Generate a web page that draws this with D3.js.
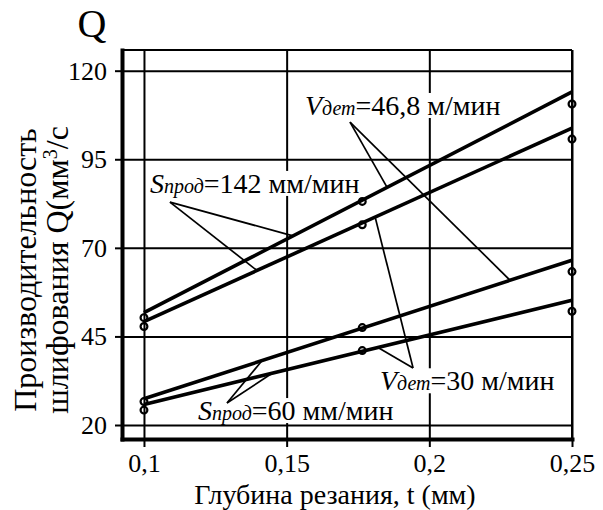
<!DOCTYPE html>
<html>
<head>
<meta charset="utf-8">
<script src="https://cdn.jsdelivr.net/npm/d3@7"></script>
<style>
  body { margin: 0; background: #fff; }
  svg { display: block; }
  svg text { font-family: "Liberation Serif", "Times New Roman", "Liberation Sans", serif; fill: #000; }
</style>
</head>
<body>
<svg id="chart" width="603" height="510"></svg>
<script>
"use strict"

// depth of cut t (mm) vs grinding productivity Q (mm3/s)
var tTicks = [0.1, 0.15, 0.2, 0.25];
var tTickLabels = ["0,1", "0,15", "0,2", "0,25"];
var qTicks = [20, 45, 70, 95, 120];

// fitted lines, ends at t = 0.1 and t = 0.25
var tFit = [0.1, 0.25];
var qFit142v47 = [51.7, 114.0];
var qFit142v30 = [49.2, 103.8];
var qFit60v47 = [27.4, 66.5];
var qFit60v30 = [25.8, 55.2];

// measured points
var tMeas = [0.1, 0.1765, 0.25];
var qMeas142v47 = [50.3, 83.1, 110.6];
var qMeas142v30 = [47.8, 76.5, 100.7];
var qMeas60v47 = [26.6, 47.5, 63.3];
var qMeas60v30 = [24.2, 41.0, 52.1];

var fits = [qFit142v47, qFit142v30, qFit60v47, qFit60v30];
var meas = [qMeas142v47, qMeas142v30, qMeas60v47, qMeas60v30];

// callouts: text parts, where the text sits, where the leaders meet, which lines they hit
var notes = [
  { parts: ["S", "прод", "=142 мм/мин"], at: [0.1021, 85.5], apex: [0.1091, 82.9], hits: [[0, 0.1522], [1, 0.1396]] },
  { parts: ["V", "дет", "=46,8 м/мин"], at: [0.1564, 107.5], apex: [0.1722, 105.5], hits: [[0, 0.1852], [2, 0.2283]] },
  { parts: ["V", "дет", "=30 м/мин"], at: [0.1827, 29.8], apex: [0.1943, 36.1], hits: [[1, 0.181], [3, 0.182]] },
  { parts: ["S", "прод", "=60 мм/мин"], at: [0.1189, 21.4], apex: [0.1291, 26.2], hits: [[2, 0.1414], [3, 0.1449]] }
];

var serif = '"Liberation Serif", "Times New Roman", "Liberation Sans", serif';

var margin = { top: 50, right: 31, bottom: 71, left: 122 };
var width = 603 - margin.left - margin.right;
var height = 510 - margin.top - margin.bottom;

var x = d3.scaleLinear().domain([0.0923, 0.25]).range([0, width]);
var y = d3.scaleLinear().domain([16.05, 125.84]).range([height, 0]);

var svg = d3.select("#chart").attr("font-family", serif);
var g = svg.append("g").attr("transform", "translate(" + margin.left + "," + margin.top + ")");

// layers
var gridG = g.append("g");
var boxG = g.append("g");
var axisG = g.append("g");
var leadG = g.append("g");
var lineG = g.append("g");
var dotG = g.append("g");
var noteG = g.append("g");

// grid
gridG.append("g")
    .call(d3.axisLeft(y).tickValues(qTicks).tickSize(-width).tickFormat(""))
    .call(function(s) { s.select(".domain").remove(); });
gridG.append("g")
    .attr("transform", "translate(0," + height + ")")
    .call(d3.axisBottom(x).tickValues(tTicks).tickSize(-height).tickFormat(""))
    .call(function(s) { s.select(".domain").remove(); });
gridG.selectAll("line").attr("stroke", "#000").attr("stroke-width", 2);

// frame top / right
axisG.append("line").attr("x1", 0).attr("x2", width).attr("y1", 0).attr("y2", 0)
    .attr("stroke", "#000").attr("stroke-width", 2);
axisG.append("line").attr("x1", width).attr("x2", width).attr("y1", 0).attr("y2", height)
    .attr("stroke", "#000").attr("stroke-width", 2);

// axes
axisG.append("g")
    .call(d3.axisLeft(y).tickValues(qTicks).tickSize(7).tickSizeOuter(0).tickPadding(8));
axisG.append("g")
    .attr("transform", "translate(0," + height + ")")
    .call(d3.axisBottom(x).tickValues(tTicks).tickSize(8).tickSizeOuter(0).tickPadding(7)
      .tickFormat(function(d, i) { return tTickLabels[i]; }));

axisG.selectAll("g").attr("font-family", serif).attr("font-size", 26);
axisG.selectAll(".tick line").attr("stroke", "#000").attr("stroke-width", 2);
axisG.selectAll(".domain").attr("stroke", "#000").attr("stroke-width", 4).attr("stroke-linecap", "square");
axisG.selectAll(".tick text").attr("fill", "#000");

// fitted lines
var line = d3.line()
    .x(function(d) { return x(d[0]); })
    .y(function(d) { return y(d[1]); });

lineG.selectAll("path")
  .data(fits)
  .enter().append("path")
    .attr("d", function(q) { return line(tFit.map(function(t, i) { return [t, q[i]]; })); })
    .attr("fill", "none")
    .attr("stroke", "#000")
    .attr("stroke-width", 3.6);

// measured circles
meas.forEach(function(q) {
  dotG.selectAll(null)
    .data(tMeas.map(function(t, i) { return [t, q[i]]; }))
    .enter().append("circle")
      .attr("cx", function(d) { return x(d[0]); })
      .attr("cy", function(d) { return y(d[1]); })
      .attr("r", 3.4)
      .attr("fill", "none")
      .attr("stroke", "#000")
      .attr("stroke-width", 2.2);
});

// callouts
function onFit(i, t) {
  return d3.scaleLinear().domain(tFit).range(fits[i])(t);
}

notes.forEach(function(n) {
  n.hits.forEach(function(h) {
    leadG.append("line")
      .attr("x1", x(n.apex[0])).attr("y1", y(n.apex[1]))
      .attr("x2", x(h[1])).attr("y2", y(onFit(h[0], h[1])))
      .attr("stroke", "#000")
      .attr("stroke-width", 1.7);
  });

  var txt = noteG.append("text")
    .attr("x", x(n.at[0]))
    .attr("y", y(n.at[1]))
    .attr("font-size", 28);
  txt.append("tspan").attr("font-style", "italic").text(n.parts[0]);
  txt.append("tspan").attr("font-style", "italic").attr("font-size", 20).text(n.parts[1]);
  txt.append("tspan").text(n.parts[2]);

  // white patch hides the grid behind the text
  var bb = txt.node().getBBox();
  boxG.append("rect")
    .attr("x", bb.x - 2).attr("y", bb.y + 3)
    .attr("width", bb.width + 4).attr("height", bb.height - 6)
    .attr("fill", "#fff");
});

// titles
svg.append("text")
    .attr("x", 92).attr("y", 37)
    .attr("text-anchor", "middle")
    .attr("font-size", 40)
    .text("Q");

svg.append("text")
    .attr("x", 335).attr("y", 504)
    .attr("text-anchor", "middle")
    .attr("font-size", 28)
    .text("Глубина резания, t (мм)");

var yt = svg.append("text")
    .attr("transform", "translate(36,270) rotate(-90)")
    .attr("text-anchor", "middle")
    .attr("font-size", 32);
yt.append("tspan").attr("x", 0).attr("y", 0).text("Производительность");
yt.append("tspan").attr("x", 0).attr("y", 32).text("шлифования Q(мм");
yt.append("tspan").attr("dy", -11).attr("font-size", 20).text("3");
yt.append("tspan").attr("dy", 11).text("/с");
</script>
</body>
</html>
